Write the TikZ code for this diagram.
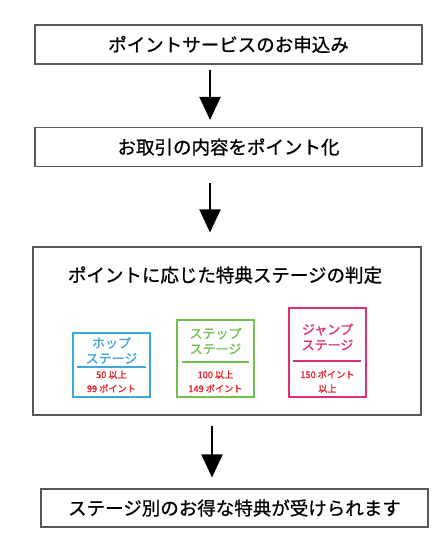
\documentclass[tikz,border=0pt]{standalone}
\usepackage{fontspec}
\setmainfont{Noto Sans CJK JP}[FakeBold=0.9]
\newfontfamily\notefont{Noto Sans CJK JP}[FakeBold=1.6]
\usetikzlibrary{arrows.meta}
\definecolor{hopblue}{HTML}{3FA6DC}
\definecolor{stepgreen}{HTML}{74BD50}
\definecolor{jumppink}{HTML}{DE2C76}
\definecolor{ptred}{HTML}{E5222A}
\tikzset{
  flowbox/.style={draw=black!65,line width=1.1pt,minimum width=387pt,inner sep=0pt,font=\fontsize{18.5}{20}\selectfont},
  stagebox/.style={draw=#1,line width=1.1pt,minimum width=77pt,inner sep=0pt},
  stagename/.style={text=#1,font=\fontsize{13}{15.5}\selectfont,align=center},
  ptnote/.style={text=ptred,font=\notefont\fontsize{9.2}{14}\selectfont,align=center},
  flow/.style={-{Triangle[length=23pt,width=21pt]},line width=2pt}
}
\begin{document}
\begin{tikzpicture}[x=1pt,y=-1pt]
\useasboundingbox (0,0) rectangle (448,550);

\node[flowbox,minimum height=39pt] (apply) at (228.5,44.5) {ポイントサービスのお申込み};
\node[flowbox,minimum height=39pt] (convert) at (228.5,147) {お取引の内容をポイント化};
\node[flowbox,minimum height=168pt,minimum width=388pt] (judge) at (227,331) {};
\node[font=\fontsize{18.5}{20}\selectfont] (judgetitle) at (225,275) {ポイントに応じた特典ステージの判定};
\node[flowbox,minimum height=38pt] (benefit) at (234.5,508) {ステージ別のお得な特典が受けられます};

% stages
\node[stagebox=hopblue,minimum height=64pt] (hop) at (111.5,365) {};
\node[stagename=hopblue] (hopname) at (111.5,350.5) {ホップ\\ステージ};
\draw[hopblue,line width=1.1pt] (77,367) -- (146,367);
\node[ptnote] (hoppt) at (111.5,381.5) {50 以上\\99 ポイント};

\node[stagebox=stepgreen,minimum height=77pt] (step1) at (215.5,358.5) {};
\node[stagename=stepgreen] (stepname) at (215.5,341) {ステップ\\ステージ};
\draw[stepgreen,line width=1.1pt] (182,362) -- (249,362);
\node[ptnote] (steppt) at (215.5,381.5) {100 以上\\149 ポイント};

\node[stagebox=jumppink,minimum height=89pt] (jump) at (327.5,352.5) {};
\node[stagename=jumppink] (jumpname) at (327.5,337) {ジャンプ\\ステージ};
\draw[jumppink,line width=1.1pt] (293,361) -- (361,361);
\node[ptnote] (jumppt) at (327.5,381.5) {150 ポイント\\以上};

\coordinate (a1) at (210,0);
\coordinate (a3) at (212,0);
\draw[flow,shorten <=5pt,shorten >=7pt] (apply.south -| a1) -- (convert.north -| a1);
\draw[flow,shorten <=16pt,shorten >=14pt] (convert.south -| a1) -- (judge.north -| a1);
\draw[flow,shorten <=10pt,shorten >=11pt] (judge.south -| a3) -- (benefit.north -| a3);
\end{tikzpicture}
\end{document}
